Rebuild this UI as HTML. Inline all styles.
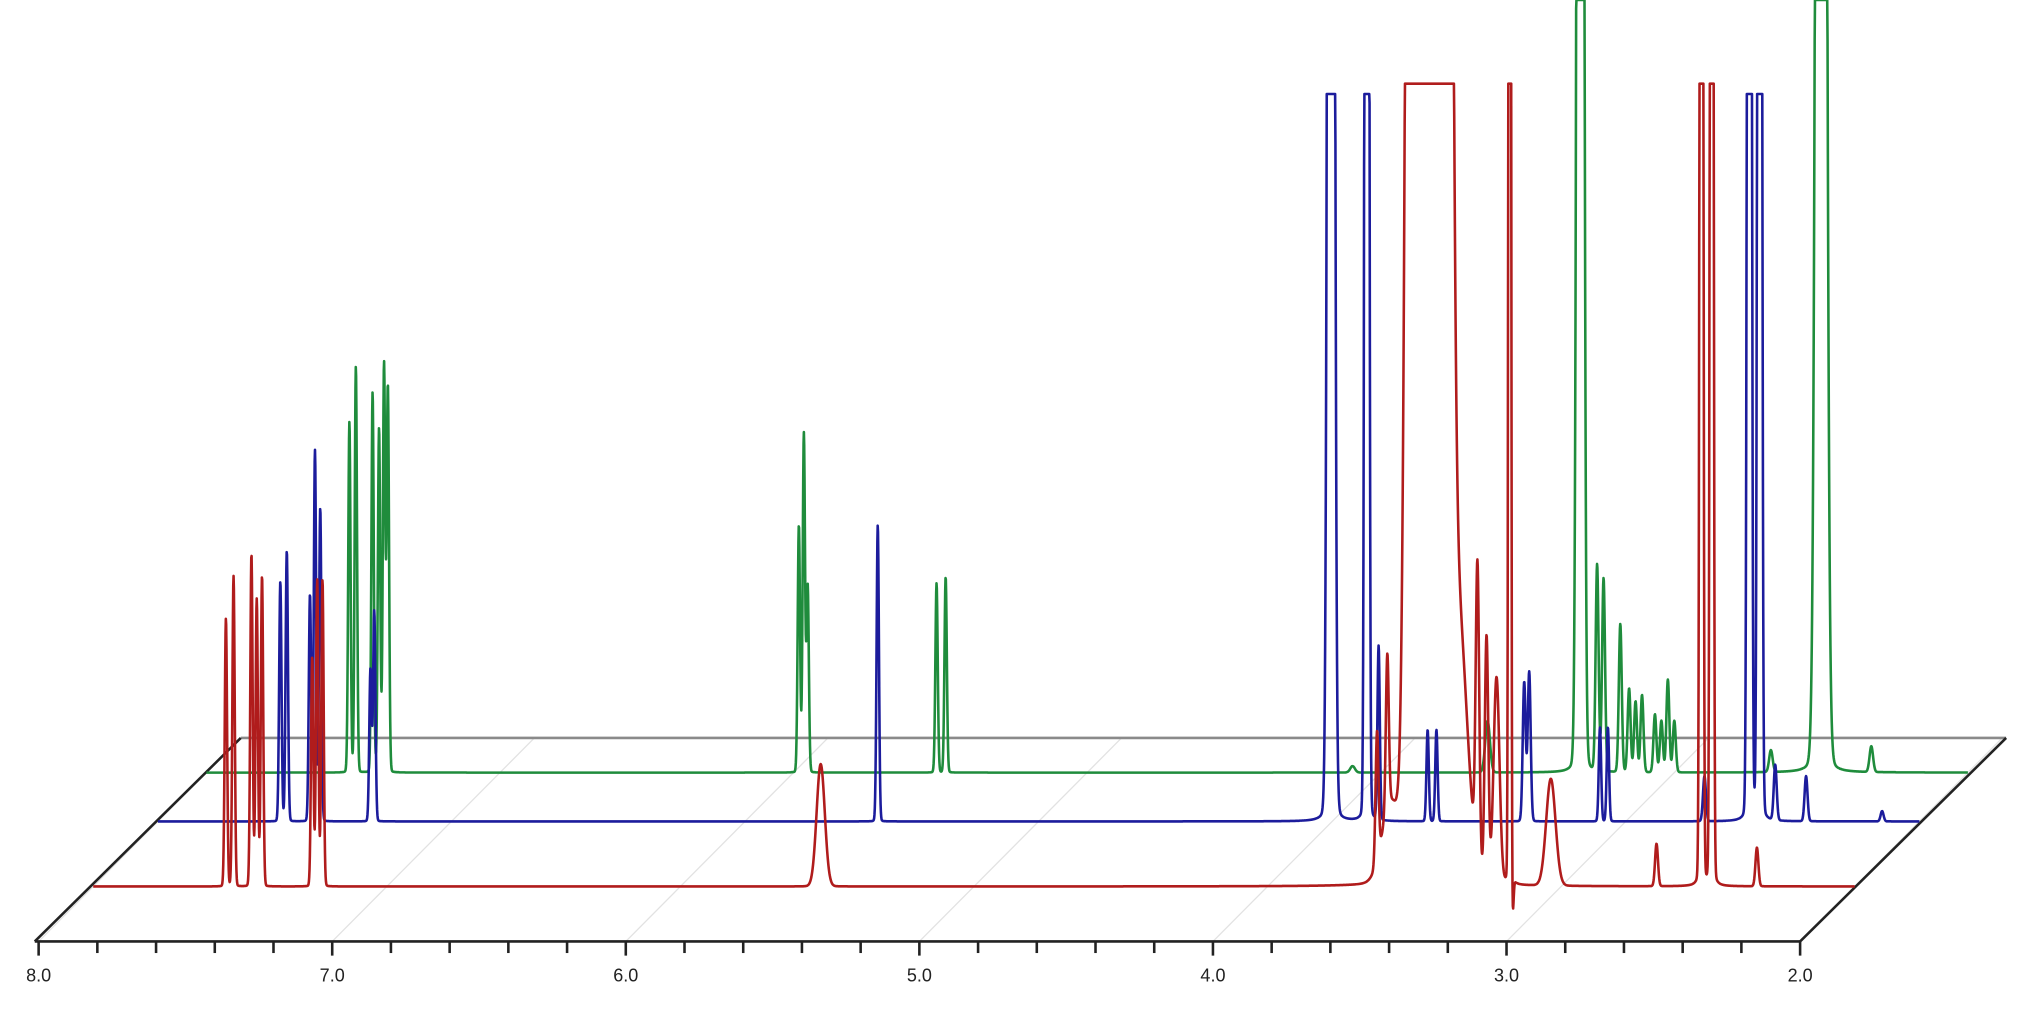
<!DOCTYPE html>
<html><head><meta charset="utf-8"><style>
html,body{margin:0;padding:0;background:#fff;}
svg{display:block;}
</style></head><body>
<svg id="chart" width="2019" height="1011" viewBox="0 0 1568 785" preserveAspectRatio="none" xmlns="http://www.w3.org/2000/svg">
<g id="floor"></g>
<g id="series"></g>
<g id="axis"></g>
</svg>
<script>
// ppm axis ticks
const tickLabels = ["8.0","7.0","6.0","5.0","4.0","3.0","2.0"];
const majorTicks = [8,7,6,5,4,3,2];
// red spectrum (front)
const redPpm = [7.548,7.522,7.461,7.443,7.425,7.254,7.237,7.219,5.522,3.627,3.592,3.58,3.50,3.45,3.40,3.35,3.285,3.254,3.22,3.175,3.165,3.035,2.675,2.522,2.487,2.333];
const redHeight = [208,241,258,223,241,178,238,238,95,100,120,60,3000,3000,3000,200,230,190,160,3000,-30,83,33,3000,3000,30];
const redWidth = [0.004,0.004,0.004,0.004,0.004,0.004,0.004,0.004,0.014,0.005,0.005,0.03,0.018,0.018,0.018,0.03,0.006,0.006,0.01,0.003,0.003,0.016,0.005,0.004,0.004,0.005];
// blue spectrum (middle)
const bluePpm = [7.583,7.561,7.482,7.465,7.447,7.276,7.263,5.548,4.004,3.882,3.842,3.675,3.645,3.346,3.329,3.088,3.061,2.732,2.579,2.544,2.491,2.386,2.127];
const blueHeight = [186,210,176,288,243,118,163,230,3000,3000,135,71,71,108,116,73,73,35,3000,3000,43,35,8];
const blueWidth = [0.004,0.004,0.004,0.004,0.004,0.004,0.004,0.004,0.008,0.005,0.004,0.004,0.004,0.005,0.005,0.004,0.004,0.005,0.005,0.005,0.005,0.005,0.005];
// green spectrum (back)
const greenPpm = [7.513,7.491,7.434,7.412,7.395,7.382,5.982,5.965,5.952,5.513,5.482,4.096,3.636,3.32,3.263,3.241,3.184,3.154,3.132,3.11,3.066,3.044,3.022,3.0,2.671,2.5,2.329];
const greenHeight = [272,315,295,267,317,300,192,263,145,147,152,5,40,3000,160,150,115,65,55,60,45,40,72,40,17,3000,20];
const greenWidth = [0.004,0.004,0.004,0.004,0.004,0.004,0.004,0.004,0.004,0.004,0.004,0.008,0.008,0.008,0.005,0.005,0.005,0.005,0.005,0.005,0.005,0.005,0.005,0.005,0.006,0.012,0.006];

const NS="http://www.w3.org/2000/svg";
const PX_PER_PPM=228, X8=30, YF=731, DX=157, DY=158;
function xFront(ppm){return X8+(8-ppm)*PX_PER_PPM;}
function mk(tag,attrs,parent){const e=document.createElementNS(NS,tag);for(const k in attrs)e.setAttribute(k,attrs[k]);parent.appendChild(e);return e;}

const floor=document.getElementById('floor');
majorTicks.forEach((p,i)=>{
  const x=xFront(p);
  const g=mk('line',{x1:x,y1:YF,x2:x+DX,y2:YF-DY,stroke:'#e2e2e2','stroke-width':1},floor);
  
  
});
const back=mk('line',{x1:X8+DX,y1:YF-DY,x2:xFront(2)+DX+3,y2:YF-DY,stroke:'#8a8a8a','stroke-width':2},floor);


const le=mk('line',{x1:X8-3,y1:YF,x2:X8+DX,y2:YF-DY,stroke:'#222','stroke-width':2},floor);


const re=mk('line',{x1:xFront(2),y1:YF,x2:xFront(2)+DX+3,y2:YF-DY,stroke:'#222','stroke-width':2},floor);



const seriesG=document.getElementById('series');
function drawSeries(name,ppm,h,w,frac,color,clipTop){
  const base=YF-DY*frac, x0=X8+DX*frac;
  let d='';
  for(let x=x0;x<=x0+6*PX_PER_PPM;x+=0.25){
    const p=8-(x-x0)/PX_PER_PPM;
    let v=0;
    for(let i=0;i<ppm.length;i++){
      const t=(p-ppm[i])/w[i];
      v+=h[i]*(0.97*Math.exp(-t*t/2)+0.03/(1+t*t));
    }
    let y=base-v; if(y<clipTop)y=clipTop; if(y>785)y=785;
    d+=(d?'L':'M')+x.toFixed(2)+' '+y.toFixed(1);
  }
  const path=mk('path',{d:d,fill:'none',stroke:color,'stroke-width':2,'stroke-linejoin':'round'},seriesG);
  
  
}
drawSeries('spectrum-green',greenPpm,greenHeight,greenWidth,0.83,'#1f8c3c',0);
drawSeries('spectrum-blue',bluePpm,blueHeight,blueWidth,0.59,'#1c1c9c',73);
drawSeries('spectrum-red',redPpm,redHeight,redWidth,0.27,'#b01c1c',65);

const axis=document.getElementById('axis');
const al=mk('line',{x1:X8-3,y1:YF,x2:xFront(2),y2:YF,stroke:'#222','stroke-width':2},axis);


for(let k=0;k<=30;k++){
  const p=8-k*0.2, x=xFront(p);
  const t=mk('line',{x1:x,y1:YF,x2:x,y2:YF+(k%5===0?11:9),stroke:'#222','stroke-width':2},axis);
  
  
}
majorTicks.forEach((p,i)=>{
  const t=mk('text',{x:xFront(p),y:YF+31,'text-anchor':'middle','font-family':'Liberation Sans, sans-serif','font-size':14,fill:'#222'},axis);
  t.textContent=tickLabels[i];
  
  
});
</script>
</body></html>
